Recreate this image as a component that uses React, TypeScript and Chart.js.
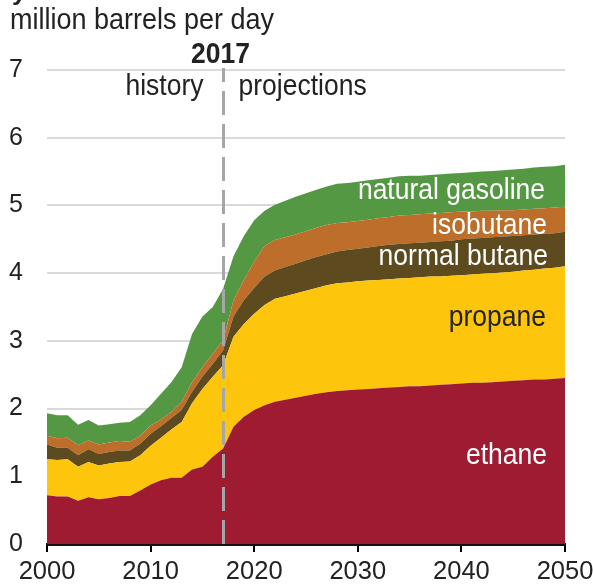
import { useEffect, useRef } from 'react';
import { Chart, registerables } from 'chart.js';

Chart.register(...registerables);

const years = [
  2000, 2001, 2002, 2003, 2004, 2005, 2006, 2007, 2008, 2009,
  2010, 2011, 2012, 2013, 2014, 2015, 2016, 2017, 2018, 2019,
  2020, 2021, 2022, 2023, 2024, 2025, 2026, 2027, 2028, 2029,
  2030, 2031, 2032, 2033, 2034, 2035, 2036, 2037, 2038, 2039,
  2040, 2041, 2042, 2043, 2044, 2045, 2046, 2047, 2048, 2049, 2050,
];

const ethane = [
  0.72, 0.70, 0.70, 0.64, 0.69, 0.66, 0.68, 0.71, 0.71, 0.79,
  0.88, 0.94, 0.98, 0.98, 1.10, 1.14, 1.29, 1.41, 1.73, 1.88,
  1.98, 2.05, 2.10, 2.13, 2.16, 2.19, 2.22, 2.24, 2.26, 2.27,
  2.28, 2.29, 2.30, 2.31, 2.32, 2.33, 2.33, 2.34, 2.35, 2.36,
  2.37, 2.38, 2.38, 2.39, 2.40, 2.41, 2.42, 2.43, 2.43, 2.44, 2.45,
];

const propane = [
  0.53, 0.54, 0.55, 0.50, 0.52, 0.50, 0.51, 0.50, 0.51, 0.52,
  0.57, 0.63, 0.71, 0.82, 0.98, 1.15, 1.18, 1.23, 1.33, 1.37,
  1.42, 1.48, 1.52, 1.53, 1.54, 1.55, 1.56, 1.58, 1.59, 1.59,
  1.60, 1.60, 1.60, 1.60, 1.60, 1.60, 1.61, 1.61, 1.60, 1.60,
  1.60, 1.60, 1.61, 1.61, 1.61, 1.61, 1.62, 1.62, 1.64, 1.64, 1.65,
];

const normalButane = [
  0.22, 0.18, 0.17, 0.17, 0.19, 0.17, 0.17, 0.17, 0.16, 0.17,
  0.18, 0.17, 0.17, 0.18, 0.17, 0.18, 0.19, 0.22, 0.30, 0.35,
  0.38, 0.42, 0.42, 0.43, 0.44, 0.45, 0.46, 0.46, 0.47, 0.48,
  0.48, 0.49, 0.50, 0.51, 0.51, 0.51, 0.51, 0.51, 0.52, 0.52,
  0.53, 0.53, 0.53, 0.53, 0.53, 0.53, 0.52, 0.52, 0.51, 0.51, 0.51,
];

const isobutane = [
  0.13, 0.14, 0.15, 0.15, 0.13, 0.14, 0.14, 0.14, 0.13, 0.12,
  0.12, 0.10, 0.09, 0.12, 0.14, 0.14, 0.15, 0.15, 0.24, 0.30,
  0.39, 0.45, 0.45, 0.44, 0.43, 0.43, 0.43, 0.43, 0.42, 0.41,
  0.41, 0.41, 0.41, 0.41, 0.42, 0.42, 0.42, 0.42, 0.42, 0.42,
  0.41, 0.40, 0.40, 0.39, 0.39, 0.38, 0.38, 0.38, 0.38, 0.38, 0.37,
];

const naturalGasoline = [
  0.33, 0.34, 0.33, 0.30, 0.30, 0.28, 0.27, 0.27, 0.29, 0.30,
  0.30, 0.38, 0.44, 0.51, 0.71, 0.75, 0.69, 0.76, 0.65, 0.65,
  0.61, 0.52, 0.52, 0.54, 0.56, 0.56, 0.56, 0.57, 0.58, 0.58,
  0.58, 0.58, 0.58, 0.58, 0.58, 0.58, 0.57, 0.57, 0.57, 0.57,
  0.57, 0.58, 0.58, 0.59, 0.59, 0.60, 0.60, 0.61, 0.61, 0.61, 0.62,
];

const seriesNames = ['ethane', 'propane', 'normal butane', 'isobutane', 'natural gasoline'];
const xTicks = [2000, 2010, 2020, 2030, 2040, 2050];
const yTicks = [0, 1, 2, 3, 4, 5, 6, 7];
const divideYear = 2017;
const unitLabel = 'million barrels per day';
const historyLabel = 'history';
const projectionsLabel = 'projections';

const FONT = '"Liberation Sans", Arial, Helvetica, sans-serif';
const colors = ['#9e1b32', '#fdc50c', '#5d4a1f', '#bd6e2a', '#559844'];
const labelColors = ['#ffffff', '#222222', '#ffffff', '#ffffff', '#ffffff'];
// label placement in pixels (x right edge, y middle)
const labelPos = [
  [547, 456],
  [546, 318],
  [548, 257],
  [547, 226],
  [545, 191],
];

function drawText(ctx: any, text: string, x: number, y: number, font: string, align: string, color: string, sy = 1.1) {
  ctx.save();
  ctx.translate(x, y);
  ctx.scale(1, sy);
  ctx.font = font;
  ctx.textAlign = align;
  ctx.textBaseline = 'middle';
  ctx.fillStyle = color;
  ctx.fillText(text, 0, 0);
  ctx.restore();
}

const overlayPlugin = {
  id: 'overlay',
  afterDatasetsDraw(chart: any) {
    const { ctx, chartArea } = chart;
    const xs = chart.scales.x;
    const px = Math.round(xs.getPixelForValue(divideYear)) + 0.5;
    ctx.save();
    ctx.strokeStyle = '#a6a6a6';
    ctx.lineWidth = 3;
    ctx.setLineDash([24, 9]);
    ctx.beginPath();
    ctx.moveTo(px, chartArea.bottom);
    ctx.lineTo(px, chartArea.top - 2);
    ctx.stroke();
    ctx.setLineDash([]);
    ctx.restore();

    seriesNames.forEach((name, i) => {
      drawText(ctx, name, labelPos[i][0], labelPos[i][1], `26.5px ${FONT}`, 'right', labelColors[i]);
    });

    drawText(ctx, historyLabel, px - 20, 87, `26.5px ${FONT}`, 'right', '#222222');
    drawText(ctx, projectionsLabel, px + 15, 87, `26.5px ${FONT}`, 'left', '#222222');
    drawText(ctx, String(divideYear), px - 3, 55, `bold 26.5px ${FONT}`, 'center', '#222222');
    drawText(ctx, unitLabel, 10, 21, `27px ${FONT}`, 'left', '#222222');

    ctx.save();
    ctx.font = `bold 26px ${FONT}`;
    ctx.fillStyle = '#222222';
    ctx.textAlign = 'left';
    ctx.textBaseline = 'alphabetic';
    ctx.fillText('y', 12, 0);
    ctx.restore();
  },
};

export default function App() {
  const canvasRef = useRef<HTMLCanvasElement | null>(null);

  useEffect(() => {
    const canvas = canvasRef.current;
    if (!canvas) return;
    const seriesValues = [ethane, propane, normalButane, isobutane, naturalGasoline];
    const datasets = seriesValues.map((vals, i) => ({
      label: seriesNames[i],
      data: years.map((yr, j) => ({ x: yr, y: vals[j] })),
      backgroundColor: colors[i],
      borderColor: colors[i],
      borderWidth: 0,
      pointRadius: 0,
      tension: 0,
      fill: i === 0 ? 'origin' : '-1',
      stack: 'a',
    }));

    const chart = new Chart(canvas, {
      type: 'line',
      data: { datasets },
      options: {
        animation: false,
        responsive: false,
        devicePixelRatio: 1,
        layout: { padding: { top: 70, right: 28, left: 0, bottom: 0 } },
        plugins: {
          legend: { display: false },
          tooltip: { enabled: false },
        },
        scales: {
          x: {
            type: 'linear',
            min: 2000,
            max: 2050,
            afterBuildTicks: (scale: any) => {
              scale.ticks = xTicks.map((v) => ({ value: v }));
            },
            afterFit: (scale: any) => {
              scale.height = 43;
              scale.paddingLeft = 0;
              scale.paddingRight = 0;
            },
            ticks: {
              autoSkip: false,
              maxRotation: 0,
              padding: 5,
              color: '#222222',
              font: { family: FONT, size: 25.5 },
              callback: (v: any) => String(v),
            },
            grid: {
              display: true,
              drawOnChartArea: false,
              drawTicks: true,
              tickLength: 8,
              color: '#000000',
              lineWidth: 2,
            },
            border: { display: true, color: '#111111', width: 3 },
          },
          y: {
            stacked: true,
            min: 0,
            max: 7,
            afterBuildTicks: (scale: any) => {
              scale.ticks = yTicks.map((v) => ({ value: v }));
            },
            afterFit: (scale: any) => {
              scale.width = 47;
              scale.paddingTop = 0;
              scale.paddingBottom = 0;
            },
            ticks: {
              padding: 24,
              color: '#222222',
              font: { family: FONT, size: 25 },
            },
            grid: {
              color: '#d9d9d9',
              lineWidth: 2,
              drawTicks: false,
            },
            border: { display: false },
          },
        },
      },
      plugins: [overlayPlugin],
    } as any);

    return () => chart.destroy();
  }, []);

  return (
    <div style={{ position: 'absolute', left: 0, top: 0, width: 593, height: 587, background: '#fff' }}>
      <canvas ref={canvasRef} width={593} height={587} style={{ width: 593, height: 587 }} />
    </div>
  );
}
